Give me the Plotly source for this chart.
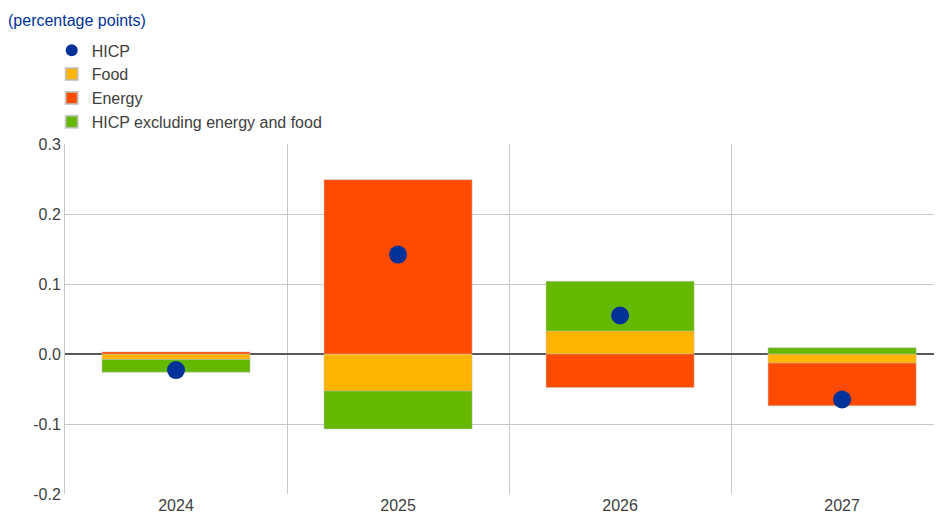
import plotly.graph_objects as go

years = ["2024", "2025", "2026", "2027"]
food = [-0.008, -0.053, 0.033, -0.013]
energy = [0.003, 0.249, -0.048, -0.061]
core = [-0.018, -0.054, 0.071, 0.009]
hicp = [-0.023, 0.142, 0.055, -0.065]
y_ticks = [-0.2, -0.1, 0.0, 0.1, 0.2, 0.3]
y_tick_text = ["-0.2", "-0.1", "0.0", "0.1", "0.2", "0.3"]

FONT = "Liberation Sans, Arial, sans-serif"
BAR_LINE = dict(width=0.6, color="rgba(190,190,190,0.8)")
fig = go.Figure()
fig.add_trace(go.Bar(x=years, y=food, name="Food", legendrank=2,
                     marker=dict(color="#FFB400", line=BAR_LINE)))
fig.add_trace(go.Bar(x=years, y=energy, name="Energy", legendrank=3,
                     marker=dict(color="#FF4B00", line=BAR_LINE)))
fig.add_trace(go.Bar(x=years, y=core, name="HICP excluding energy and food", legendrank=4,
                     marker=dict(color="#65B800", line=BAR_LINE)))
fig.add_trace(go.Scatter(x=years, y=hicp, mode="markers", name="HICP", legendrank=1,
                         marker=dict(color="#003299", size=18, line=dict(width=0))))

fig.update_layout(
    width=942, height=520,
    barmode="relative", bargap=0.333,
    plot_bgcolor="white", paper_bgcolor="white",
    margin=dict(l=57, r=0, t=136, b=34),
    font=dict(family=FONT, size=16, color="#404040"),
    title=dict(text="(percentage points)", x=0, xref="container", xanchor="left",
               y=1-12/520, yref="container", yanchor="middle",
               font=dict(family=FONT, size=16, color="#003299")),
    legend=dict(x=-0.015, y=1.316, xanchor="left", yanchor="top", traceorder="normal",
                font=dict(family=FONT, size=16, color="#404040"), itemclick=False,
                itemsizing="constant",
                bgcolor="rgba(0,0,0,0)", tracegroupgap=0),
    showlegend=True,
)
fig.update_xaxes(type="category", range=[-0.5, 3.486], tickson="boundaries", showgrid=True,
                 gridcolor="#C8C8C8", gridwidth=1, showline=False, ticks="",
                 tickfont=dict(size=16, color="#404040"), categoryorder="array", categoryarray=years)
fig.update_yaxes(range=[-0.2, 0.3], tickvals=y_ticks, ticktext=y_tick_text, showgrid=True,
                 gridcolor="#C8C8C8", gridwidth=1, zeroline=True, zerolinecolor="#595959",
                 zerolinewidth=2, showline=True, linecolor="#C8C8C8", linewidth=1,
                 ticks="", tickfont=dict(size=16, color="#404040"))
fig.write_html("out.html", post_script="document.body.style.overflow='hidden';")
